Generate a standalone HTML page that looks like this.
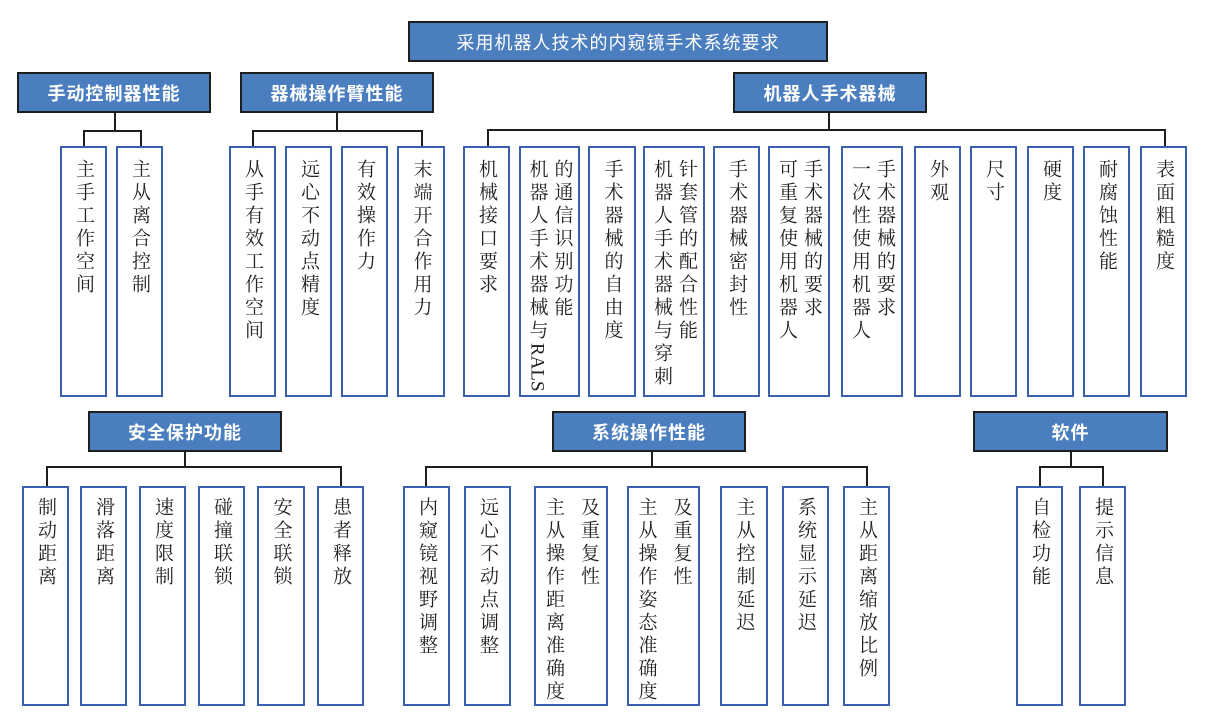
<!DOCTYPE html>
<html><head><meta charset="utf-8"><style>
body{margin:0;width:1209px;height:724px;background:#fff;position:relative;overflow:hidden}
.h{position:absolute;background:#4a7ebf;border:2px solid #1e1e1e;box-sizing:border-box;color:#fff;font:bold 18px "Liberation Sans","Noto Sans CJK SC",sans-serif;display:flex;align-items:center;justify-content:center;letter-spacing:1px}
.b{position:absolute;border:2px solid #3a5fae;box-sizing:border-box;display:flex;justify-content:center;gap:4px;padding-top:11px;background:#fff;overflow:visible}
.r2{padding-top:9px}
.c{writing-mode:vertical-lr;font:19px "Liberation Serif","Noto Serif CJK SC",serif;letter-spacing:4px;color:#222;line-height:21px;white-space:nowrap}
.l{position:absolute;background:#1e1e1e}
</style></head><body>
<div class="h" style="left:408px;top:21px;width:420px;height:41px;font-weight:normal;font-size:18px">采用机器人技术的内窥镜手术系统要求</div>
<div class="h" style="left:17px;top:72px;width:194px;height:41px">手动控制器性能</div>
<div class="h" style="left:240px;top:72px;width:194px;height:41px">器械操作臂性能</div>
<div class="h" style="left:733px;top:72px;width:194px;height:41px">机器人手术器械</div>
<div class="h" style="left:88px;top:411px;width:194px;height:41px">安全保护功能</div>
<div class="h" style="left:552px;top:411px;width:194px;height:41px">系统操作性能</div>
<div class="h" style="left:973px;top:411px;width:195px;height:41px">软件</div>

<div class="l" style="left:114px;top:112px;width:2px;height:19px"></div>
<div class="l" style="left:83px;top:130px;width:59px;height:2px"></div>
<div class="l" style="left:83px;top:130px;width:2px;height:16px"></div>
<div class="l" style="left:140px;top:130px;width:2px;height:16px"></div>
<div class="l" style="left:336px;top:112px;width:2px;height:19px"></div>
<div class="l" style="left:252px;top:130px;width:171px;height:2px"></div>
<div class="l" style="left:252px;top:130px;width:2px;height:16px"></div>
<div class="l" style="left:421px;top:130px;width:2px;height:16px"></div>
<div class="l" style="left:828px;top:112px;width:2px;height:18px"></div>
<div class="l" style="left:487px;top:129px;width:679px;height:2px"></div>
<div class="l" style="left:487px;top:129px;width:2px;height:17px"></div>
<div class="l" style="left:1164px;top:129px;width:2px;height:17px"></div>
<div class="l" style="left:184px;top:451px;width:2px;height:16px"></div>
<div class="l" style="left:46px;top:466px;width:296px;height:2px"></div>
<div class="l" style="left:46px;top:466px;width:2px;height:20px"></div>
<div class="l" style="left:340px;top:466px;width:2px;height:20px"></div>
<div class="l" style="left:651px;top:451px;width:2px;height:16px"></div>
<div class="l" style="left:425px;top:466px;width:443px;height:2px"></div>
<div class="l" style="left:425px;top:466px;width:2px;height:20px"></div>
<div class="l" style="left:866px;top:466px;width:2px;height:20px"></div>
<div class="l" style="left:1070px;top:451px;width:2px;height:16px"></div>
<div class="l" style="left:1039px;top:466px;width:65px;height:2px"></div>
<div class="l" style="left:1039px;top:466px;width:2px;height:20px"></div>
<div class="l" style="left:1102px;top:466px;width:2px;height:20px"></div>

<div class="b" style="left:60px;top:146px;width:47px;height:251px"><span class="c">主手工作空间</span></div>
<div class="b" style="left:116px;top:146px;width:47px;height:251px"><span class="c">主从离合控制</span></div>
<div class="b" style="left:229px;top:146px;width:47px;height:251px"><span class="c">从手有效工作空间</span></div>
<div class="b" style="left:285px;top:146px;width:47px;height:251px"><span class="c">远心不动点精度</span></div>
<div class="b" style="left:341px;top:146px;width:47px;height:251px"><span class="c">有效操作力</span></div>
<div class="b" style="left:397px;top:146px;width:48px;height:251px"><span class="c">末端开合作用力</span></div>
<div class="b" style="left:463px;top:146px;width:47px;height:251px"><span class="c">机械接口要求</span></div>
<div class="b" style="left:519px;top:146px;width:61px;height:251px"><span class="c">机器人手术器械与<span style="letter-spacing:0">RALS</span></span><span class="c">的通信识别功能</span></div>
<div class="b" style="left:588px;top:146px;width:48px;height:251px"><span class="c">手术器械的自由度</span></div>
<div class="b" style="left:643px;top:146px;width:62px;height:251px"><span class="c">机器人手术器械与穿刺</span><span class="c">针套管的配合性能</span></div>
<div class="b" style="left:713px;top:146px;width:47px;height:251px"><span class="c">手术器械密封性</span></div>
<div class="b" style="left:768px;top:146px;width:62px;height:251px"><span class="c">可重复使用机器人</span><span class="c">手术器械的要求</span></div>
<div class="b" style="left:841px;top:146px;width:62px;height:251px"><span class="c">一次性使用机器人</span><span class="c">手术器械的要求</span></div>
<div class="b" style="left:914px;top:146px;width:47px;height:251px"><span class="c">外观</span></div>
<div class="b" style="left:970px;top:146px;width:47px;height:251px"><span class="c">尺寸</span></div>
<div class="b" style="left:1027px;top:146px;width:47px;height:251px"><span class="c">硬度</span></div>
<div class="b" style="left:1083px;top:146px;width:47px;height:251px"><span class="c">耐腐蚀性能</span></div>
<div class="b" style="left:1140px;top:146px;width:47px;height:251px"><span class="c">表面粗糙度</span></div>

<div class="b r2" style="left:22px;top:486px;width:47px;height:220px"><span class="c">制动距离</span></div>
<div class="b r2" style="left:80px;top:486px;width:47px;height:220px"><span class="c">滑落距离</span></div>
<div class="b r2" style="left:139px;top:486px;width:47px;height:220px"><span class="c">速度限制</span></div>
<div class="b r2" style="left:198px;top:486px;width:47px;height:220px"><span class="c">碰撞联锁</span></div>
<div class="b r2" style="left:257px;top:486px;width:48px;height:220px"><span class="c">安全联锁</span></div>
<div class="b r2" style="left:317px;top:486px;width:47px;height:220px"><span class="c">患者释放</span></div>

<div class="b r2" style="left:403px;top:486px;width:47px;height:220px"><span class="c">内窥镜视野调整</span></div>
<div class="b r2" style="left:464px;top:486px;width:47px;height:220px"><span class="c">远心不动点调整</span></div>
<div class="b r2" style="left:534px;top:486px;width:74px;height:220px;gap:14px"><span class="c">主从操作距离准确度</span><span class="c">及重复性</span></div>
<div class="b r2" style="left:627px;top:486px;width:73px;height:220px;gap:14px"><span class="c">主从操作姿态准确度</span><span class="c">及重复性</span></div>
<div class="b r2" style="left:720px;top:486px;width:48px;height:220px"><span class="c">主从控制延迟</span></div>
<div class="b r2" style="left:782px;top:486px;width:47px;height:220px"><span class="c">系统显示延迟</span></div>
<div class="b r2" style="left:843px;top:486px;width:47px;height:220px"><span class="c">主从距离缩放比例</span></div>

<div class="b r2" style="left:1016px;top:486px;width:47px;height:220px"><span class="c">自检功能</span></div>
<div class="b r2" style="left:1079px;top:486px;width:47px;height:220px"><span class="c">提示信息</span></div>
</body></html>
